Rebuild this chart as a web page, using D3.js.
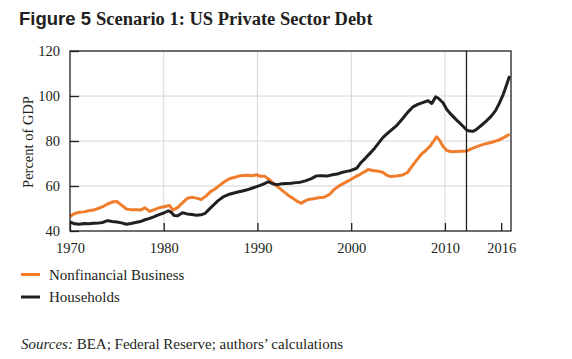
<!DOCTYPE html>
<html><head><meta charset="utf-8">
<script src="https://cdn.jsdelivr.net/npm/d3@7"></script>
<style>body{margin:0;background:#fff}svg{display:block}</style>
</head><body>
<script>
const yTicks = [40, 60, 80, 100, 120];
const xTicks = [1970, 1980, 1990, 2000, 2010, 2016];
const gridYears = [1980, 1990, 2000, 2010];
const gridValues = [60, 80, 100];
const markerYear = 2012.3;
const seriesNames = ["Nonfinancial Business", "Households"];

const bizYears = [1970.0,1970.5,1971.0,1971.5,1972.0,1972.5,1973.0,1973.5,1974.0,1974.6,1975.0,1975.5,1976.0,1976.5,1977.0,1977.5,1978.0,1978.5,1979.0,1979.5,1980.0,1980.6,1981.0,1981.5,1982.0,1982.5,1983.0,1983.5,1984.0,1984.5,1985.0,1985.5,1986.0,1986.5,1987.0,1987.5,1988.0,1988.5,1989.0,1989.5,1989.9,1990.3,1990.8,1991.2,1991.7,1992.2,1992.8,1993.3,1993.8,1994.2,1994.7,1995.0,1995.4,1996.0,1996.5,1997.1,1997.7,1998.2,1998.8,1999.4,1999.9,2000.5,2001.0,2001.5,2001.8,2002.3,2002.9,2003.4,2003.8,2004.2,2004.8,2005.5,2006.0,2006.5,2007.0,2007.5,2008.0,2008.4,2008.8,2009.1,2009.4,2009.8,2010.2,2010.7,2011.2,2011.8,2012.3,2012.8,2013.4,2014.1,2014.8,2015.3,2015.8,2016.3,2016.9];
const bizValues = [46.5,47.8,48.3,48.5,49.0,49.3,50.0,50.8,52.0,53.0,53.1,51.5,49.8,49.5,49.5,49.3,50.3,48.7,49.5,50.3,50.8,51.3,49.3,50.5,52.5,54.5,55.0,54.6,54.0,55.5,57.5,58.8,60.4,62.0,63.2,63.8,64.4,64.7,64.8,64.6,65.0,64.3,64.3,63.0,61.3,59.5,57.5,55.8,54.5,53.3,52.3,53.2,54.0,54.3,54.8,55.0,56.3,58.5,60.3,61.6,62.8,64.2,65.3,66.5,67.3,66.9,66.6,66.0,64.8,64.2,64.4,64.9,66.0,68.8,71.6,74.2,76.0,77.6,80.0,81.9,80.5,77.6,75.8,75.2,75.3,75.4,75.5,76.5,77.5,78.5,79.2,79.8,80.5,81.6,83.0];

const hhYears = [1970.0,1970.5,1971.0,1971.5,1972.0,1972.5,1973.0,1973.5,1974.0,1974.5,1975.0,1975.5,1976.0,1976.5,1977.0,1977.5,1978.0,1978.5,1979.0,1979.5,1980.0,1980.5,1980.8,1981.1,1981.5,1982.0,1982.5,1983.0,1983.5,1984.0,1984.4,1984.8,1985.3,1985.8,1986.4,1986.9,1987.4,1987.9,1988.4,1988.9,1989.4,1989.9,1990.3,1990.8,1991.2,1991.6,1992.1,1992.6,1993.1,1993.6,1994.1,1994.6,1995.1,1995.7,1996.3,1996.8,1997.4,1998.0,1998.5,1999.0,1999.5,1999.9,2000.6,2001.0,2001.5,2002.0,2002.5,2003.0,2003.4,2003.9,2004.4,2004.9,2005.5,2006.0,2006.6,2007.1,2007.7,2008.2,2008.6,2009.0,2009.3,2009.8,2010.2,2010.7,2011.2,2011.8,2012.3,2012.6,2013.0,2013.3,2013.9,2014.4,2014.9,2015.4,2015.8,2016.2,2016.5,2016.9];
const hhValues = [44.0,43.2,43.0,43.3,43.2,43.4,43.5,43.8,44.6,44.2,44.0,43.6,43.0,43.3,43.8,44.2,45.0,45.6,46.4,47.3,48.0,49.0,48.3,46.9,46.8,48.1,47.6,47.3,47.0,47.2,47.8,49.5,51.5,53.5,55.3,56.2,56.8,57.3,57.8,58.3,59.0,59.7,60.3,61.2,61.9,61.0,60.6,61.0,61.1,61.2,61.5,61.7,62.3,63.2,64.5,64.6,64.4,65.0,65.3,66.0,66.5,66.8,67.9,70.2,72.3,74.5,76.8,79.5,81.6,83.5,85.3,87.1,90.0,92.6,95.2,96.3,97.2,97.9,96.7,99.6,99.0,97.0,94.0,91.6,89.5,87.1,85.0,84.4,84.3,84.9,87.0,88.8,90.8,93.5,96.7,100.5,104.0,108.9];

const W = 572, H = 359;
const serif = "'Liberation Serif', 'Times New Roman', serif";
const orange = "#ef7d2c", dark = "#231f20";

const svg = d3.select("body").append("svg").attr("width", W).attr("height", H);

const x = d3.scaleLinear().domain([1970, 2017.05]).range([70, 511]);
const y = d3.scaleLinear().domain([40, 120]).range([231, 51]);

// Title
const t = svg.append("text").attr("x", 19).attr("y", 25).attr("fill", dark);
t.append("tspan").attr("font-family", "'Liberation Sans', Arial, sans-serif").attr("font-weight", "bold").attr("font-size", 18.5).text("Figure 5");
t.append("tspan").attr("font-family", serif).attr("font-weight", "bold").attr("font-size", 18.5).attr("dx", 5).text("Scenario 1: US Private Sector Debt");

// Grid
svg.append("g").selectAll("line").data(gridYears).join("line")
  .attr("x1", d => x(d)).attr("x2", d => x(d)).attr("y1", y(120)).attr("y2", y(40))
  .attr("stroke", "#d6d6d6").attr("stroke-width", 1);
svg.append("g").selectAll("line").data(gridValues).join("line")
  .attr("x1", x.range()[0]).attr("x2", x.range()[1]).attr("y1", d => y(d)).attr("y2", d => y(d))
  .attr("stroke", "#d6d6d6").attr("stroke-width", 1);

// Lines
const line = d3.line().x(d => x(d[0])).y(d => y(d[1]));
const biz = bizYears.map((yr, i) => [yr, bizValues[i]]);
const hh = hhYears.map((yr, i) => [yr, hhValues[i]]);
svg.append("path").datum(biz).attr("d", line).attr("fill", "none").attr("stroke", orange).attr("stroke-width", 3).attr("stroke-linejoin", "round");
svg.append("path").datum(hh).attr("d", line).attr("fill", "none").attr("stroke", dark).attr("stroke-width", 3).attr("stroke-linejoin", "round");

// Marker line
svg.append("line").attr("x1", x(markerYear)).attr("x2", x(markerYear)).attr("y1", y(120)).attr("y2", y(40))
  .attr("stroke", dark).attr("stroke-width", 1.3);

// Frame
svg.append("rect").attr("x", x.range()[0]).attr("y", y(120)).attr("width", x.range()[1] - x.range()[0]).attr("height", y(40) - y(120))
  .attr("fill", "none").attr("stroke", dark).attr("stroke-width", 1.3);

// Axes
const xa = svg.append("g").attr("transform", `translate(0,${y(40)})`)
  .call(d3.axisBottom(x).tickValues(xTicks).tickFormat(d3.format("d")).tickSize(-8).tickPadding(12));
xa.select(".domain").remove();
xa.selectAll("line").attr("stroke", dark).attr("stroke-width", 1.3);
xa.selectAll("text").attr("font-family", serif).attr("font-size", 14.5).attr("fill", dark);

const ya = svg.append("g").attr("transform", `translate(${x.range()[0]},0)`)
  .call(d3.axisLeft(y).tickValues(yTicks).tickSize(-9).tickPadding(10));
ya.select(".domain").remove();
ya.selectAll("line").attr("stroke", dark).attr("stroke-width", 1.3);
ya.selectAll("text").attr("font-family", serif).attr("font-size", 14.5).attr("fill", dark);

svg.append("text").attr("transform", `translate(33,${(y(40)+y(120))/2 + 1}) rotate(-90)`)
  .attr("text-anchor", "middle").attr("font-family", serif).attr("font-size", 14.5).attr("fill", dark).text("Percent of GDP");

// Legend
const lg = svg.append("g");
[orange, dark].forEach((c, i) => {
  const yy = 274.5 + i * 22.5;
  lg.append("line").attr("x1", 21).attr("x2", 40).attr("y1", yy).attr("y2", yy).attr("stroke", c).attr("stroke-width", 3);
  lg.append("text").attr("x", 49).attr("y", yy + 5).attr("font-family", serif).attr("font-size", 15).attr("fill", dark).text(seriesNames[i]);
});

// Sources
const s = svg.append("text").attr("x", 21).attr("y", 349).attr("font-family", serif).attr("font-size", 15).attr("fill", dark);
s.append("tspan").attr("font-style", "italic").text("Sources:");
s.append("tspan").text(" BEA; Federal Reserve; authors’ calculations");
</script>
</body></html>
